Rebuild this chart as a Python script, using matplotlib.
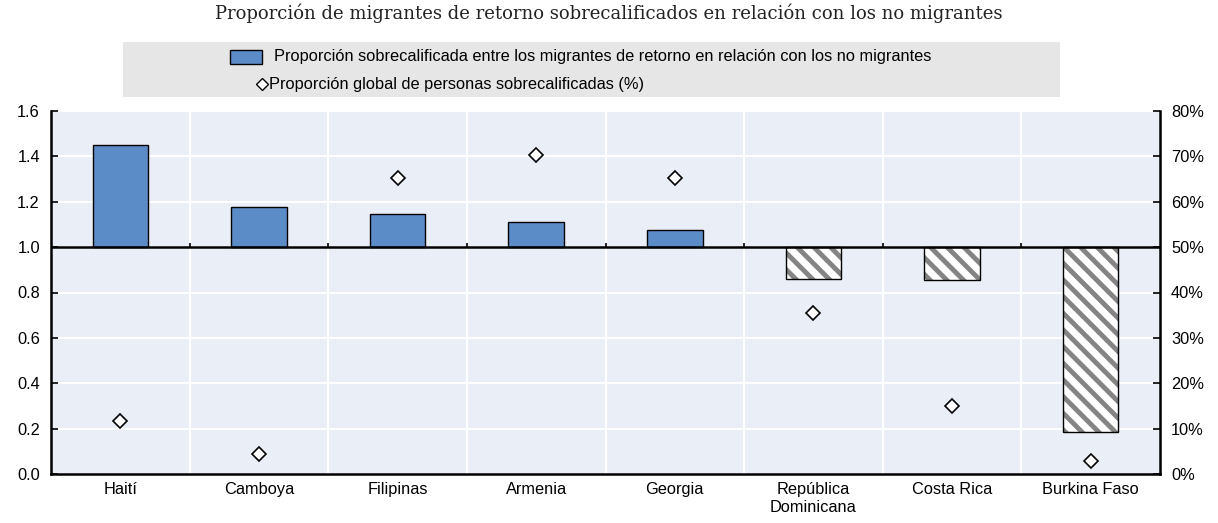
import matplotlib.pyplot as plt
from matplotlib.patches import Rectangle
from matplotlib.lines import Line2D
from matplotlib.ticker import PercentFormatter

plt.rcParams['font.family'] = ['Liberation Sans', 'DejaVu Sans']
plt.rcParams['hatch.linewidth'] = 3.5

countries = ['Haití', 'Camboya', 'Filipinas', 'Armenia', 'Georgia',
             'República\nDominicana', 'Costa Rica', 'Burkina Faso']
ratio = [1.45, 1.177, 1.146, 1.11, 1.075, 0.86, 0.855, 0.185]
overall = [0.117, 0.044, 0.652, 0.703, 0.652, 0.355, 0.150, 0.029]

blue = '#5b8cc8'
bg = '#e9eef7'
fs = 11.8

fig = plt.figure(figsize=(12.18, 5.23), dpi=100)
ax = fig.add_axes([51 / 1218, 49 / 523, 1109 / 1218, 363 / 523])
ax.set_facecolor(bg)

x = list(range(len(countries)))
for i, v in enumerate(ratio):
    if v >= 1:
        ax.bar(i, v - 1, bottom=1, width=0.4, color=blue, edgecolor='black',
               linewidth=1, zorder=3)
    else:
        ax.bar(i, v - 1, bottom=1, width=0.4, color='white', edgecolor='#848484',
               hatch='\\\\', linewidth=0, zorder=3)
        ax.bar(i, v - 1, bottom=1, width=0.4, fill=False, edgecolor='black',
               linewidth=1, zorder=4)

ax.set_xlim(-0.5, len(countries) - 0.5)
ax.set_ylim(0, 1.6)
ax.set_yticks([0, 0.2, 0.4, 0.6, 0.8, 1.0, 1.2, 1.4, 1.6])
ax.set_yticklabels(['0.0', '0.2', '0.4', '0.6', '0.8', '1.0', '1.2', '1.4', '1.6'])
ax.set_xticks(x)
ax.set_xticklabels(countries)
ax.set_xticks([i + 0.5 for i in x[:-1]], minor=True)
ax.tick_params(axis='x', which='both', length=0, labelsize=fs, pad=6)
ax.tick_params(axis='y', direction='in', length=5, width=1.2, labelsize=fs, pad=8)
ax.grid(axis='y', color='white', linewidth=1.5, zorder=0)
ax.grid(axis='x', which='minor', color='white', linewidth=1.5, zorder=0)
ax.set_axisbelow(True)

# reference line at 1.0 with small ticks at category boundaries
ax.axhline(1.0, color='black', linewidth=1.8, zorder=5)
ax.vlines([i + 0.5 for i in x[:-1]], 1.0, 1.02, color='black', linewidth=1.2, zorder=5)

for s in ['top', 'right']:
    ax.spines[s].set_visible(False)
ax.spines['left'].set_linewidth(1.8)
ax.spines['bottom'].set_linewidth(1.8)

ax2 = ax.twinx()
ax2.set_ylim(0, 0.8)
ax2.set_yticks([0, 0.1, 0.2, 0.3, 0.4, 0.5, 0.6, 0.7, 0.8])
ax2.yaxis.set_major_formatter(PercentFormatter(1.0, decimals=0))
ax2.tick_params(axis='y', direction='in', length=5, width=1.2, labelsize=fs, pad=8)
ax2.plot(x, overall, linestyle='none', marker='D', markersize=7,
         markerfacecolor='white', markeredgecolor='black', markeredgewidth=1.2, zorder=6)
for s in ['top', 'left', 'bottom']:
    ax2.spines[s].set_visible(False)
ax2.spines['right'].set_linewidth(1.8)

# legend box
W, H = 1218, 523
fig.patches.append(Rectangle((123 / W, 1 - 97 / H), 937 / W, 55 / H,
                             transform=fig.transFigure, facecolor='#e6e6e6',
                             edgecolor='none'))
fig.patches.append(Rectangle((230 / W, 1 - 64 / H), 32 / W, 14 / H,
                             transform=fig.transFigure, facecolor=blue,
                             edgecolor='black', linewidth=1))
fig.text(274 / W, 1 - 57 / H,
         'Proporción sobrecalificada entre los migrantes de retorno en relación con los no migrantes',
         fontsize=fs, va='center', ha='left')
fig.lines.append(Line2D([262 / W], [1 - 84 / H], transform=fig.transFigure,
                        marker='D', markersize=6, markerfacecolor='white',
                        markeredgecolor='black', markeredgewidth=1))
fig.text(269 / W, 1 - 84 / H, 'Proporción global de personas sobrecalificadas (%)',
         fontsize=fs, va='center', ha='left')

fig.text(0.5, 1 - 13 / H,
         'Proporción de migrantes de retorno sobrecalificados en relación con los no migrantes',
         fontsize=13, family='DejaVu Serif', ha='center', va='center', color='#222222')

fig.savefig('out.png', dpi=100)
